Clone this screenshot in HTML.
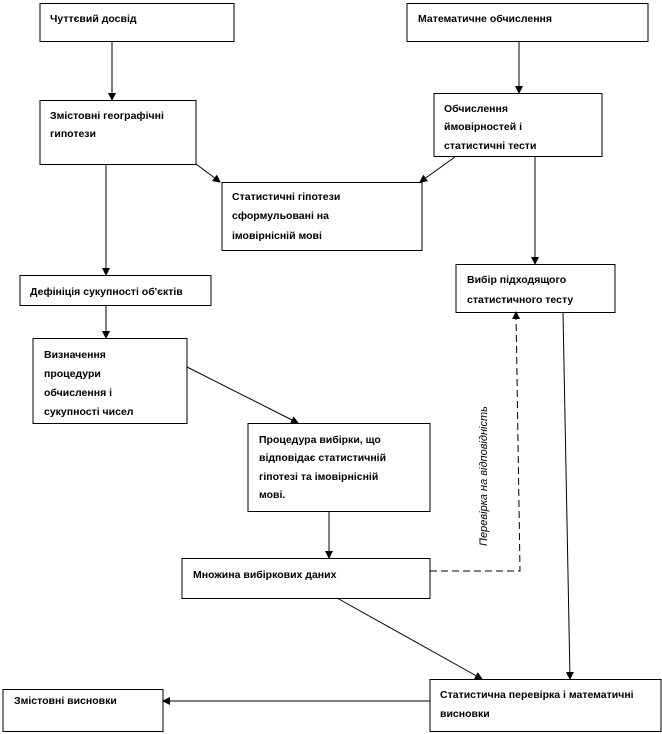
<!DOCTYPE html>
<html><head><meta charset="utf-8"><style>
body{margin:0;background:#fff}
svg{display:block}
text{font-family:"Liberation Sans",sans-serif;font-size:10.5px;font-weight:bold;fill:#000}
rect{fill:#fff;stroke:#000;stroke-width:1}
line,polyline{stroke:#000;stroke-width:1;fill:none}
</style></head><body>
<svg width="662" height="734" viewBox="0 0 662 734" xmlns="http://www.w3.org/2000/svg">
<defs><marker id="a" markerWidth="8" markerHeight="8" refX="7" refY="4" orient="auto" markerUnits="userSpaceOnUse"><path d="M0,0 L8,4 L0,8 z" fill="#000"/></marker></defs>
<rect x="40" y="3.5" width="194" height="38"/>
<text x="50" y="22">Чуттєвий досвід</text>
<rect x="407" y="3.5" width="241" height="38"/>
<text x="418" y="22">Математичне обчислення</text>
<rect x="40" y="100.5" width="156" height="64"/>
<text x="50" y="119">Змістовні географічні</text><text x="50" y="137">гипотези</text>
<rect x="434" y="93.5" width="168" height="63"/>
<text x="444" y="112">Обчислення</text><text x="444" y="130">ймовірностей і</text><text x="444" y="149">статистичні тести</text>
<rect x="222" y="182.5" width="200" height="68"/>
<text x="232" y="200">Статистичні гіпотези</text><text x="232" y="219">сформульовані на</text><text x="232" y="239">імовірнісній мові</text>
<rect x="456" y="264.5" width="159" height="48"/>
<text x="467" y="283">Вибір підходящого</text><text x="467" y="303">статистичного тесту</text>
<rect x="20" y="275.5" width="191" height="30"/>
<text x="30" y="295">Дефініція сукупності об'єктів</text>
<rect x="33" y="338.5" width="154" height="85"/>
<text x="44" y="358">Визначення</text><text x="44" y="377">процедури</text><text x="44" y="396">обчислення і</text><text x="44" y="415">сукупності чисел</text>
<rect x="248" y="423.5" width="182" height="88"/>
<text x="259" y="443">Процедура вибірки, що</text><text x="259" y="461">відповідає статистичній</text><text x="259" y="480">гіпотезі та імовірнісній</text><text x="259" y="498">мові.</text>
<rect x="182" y="558.5" width="248" height="40"/>
<text x="193" y="578">Множина вибіркових даних</text>
<rect x="430" y="679.5" width="231" height="52"/>
<text x="440" y="698">Статистична перевірка і математичні</text><text x="440" y="717">висновки</text>
<rect x="3" y="689.5" width="160" height="42"/>
<text x="14" y="704">Змістовні висновки</text>
<line x1="112" y1="41" x2="112" y2="100" marker-end="url(#a)"/>
<line x1="519" y1="41" x2="519" y2="93" marker-end="url(#a)"/>
<line x1="196" y1="164" x2="220" y2="182" marker-end="url(#a)"/>
<line x1="455" y1="157" x2="420" y2="182" marker-end="url(#a)"/>
<line x1="106" y1="164" x2="106" y2="275" marker-end="url(#a)"/>
<line x1="535" y1="156" x2="535" y2="264" marker-end="url(#a)"/>
<line x1="106" y1="305" x2="106" y2="338" marker-end="url(#a)"/>
<line x1="187" y1="367" x2="298" y2="423" marker-end="url(#a)"/>
<line x1="329" y1="511" x2="329" y2="558" marker-end="url(#a)"/>
<line x1="337" y1="598" x2="482" y2="679" marker-end="url(#a)"/>
<line x1="563" y1="312" x2="570" y2="679" marker-end="url(#a)"/>
<line x1="430" y1="701" x2="163" y2="701" marker-end="url(#a)"/>
<polyline points="430,571 520,571 516,312" stroke-dasharray="7,4" marker-end="url(#a)"/>
<text transform="translate(487,476) rotate(-90)" text-anchor="middle" style="font-style:italic;font-weight:normal;font-size:11px">Перевірка на відповідність</text>
</svg>
</body></html>
